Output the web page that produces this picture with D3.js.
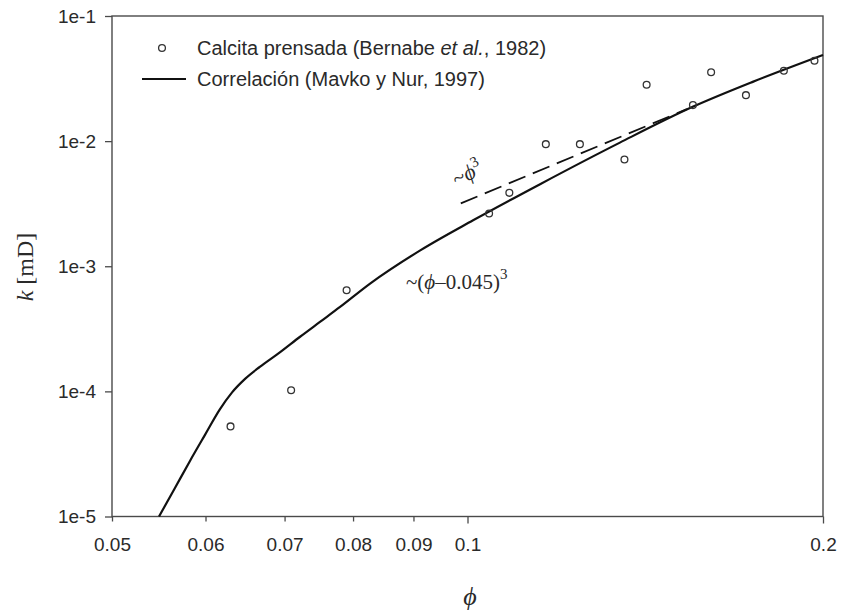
<!DOCTYPE html>
<html>
<head>
<meta charset="utf-8">
<script src="https://cdn.jsdelivr.net/npm/d3@7"></script>
<style>
  html, body { margin: 0; padding: 0; background: #fff; }
  svg { display: block; }
  .sans { font-family: "Liberation Sans", Arial, sans-serif; }
  .serif { font-family: "Liberation Serif", "Times New Roman", "DejaVu Serif", serif; }
</style>
</head>
<body>
<div id="chart"></div>
<script>
// Axis ticks
const phiTicks = [0.05, 0.06, 0.07, 0.08, 0.09, 0.1, 0.2];
const phiTickLabels = ["0.05", "0.06", "0.07", "0.08", "0.09", "0.1", "0.2"];
const kTicks = [1e-5, 1e-4, 1e-3, 1e-2, 1e-1];
const kTickLabels = ["1e-5", "1e-4", "1e-3", "1e-2", "1e-1"];

// Pressed calcite measurements (Bernabe et al., 1982)
const calcitaPhi = [0.0630, 0.0709, 0.0790, 0.1043, 0.1085, 0.1165, 0.1245, 0.1358, 0.1418, 0.1552, 0.1608, 0.1721, 0.1853, 0.1967];
const calcitaK   = [5.25e-5, 1.02e-4, 6.43e-4, 2.64e-3, 3.86e-3, 9.46e-3, 9.46e-3, 7.14e-3, 2.82e-2, 1.94e-2, 3.55e-2, 2.33e-2, 3.65e-2, 4.39e-2];

// Mavko & Nur (1997) correlation curve
const mavkoPhi = [0.0548, 0.05653, 0.05821, 0.05994, 0.0617, 0.06319, 0.06481, 0.0667, 0.0694, 0.0721, 0.0750, 0.0780, 0.0827, 0.0912, 0.1011, 0.1152, 0.1346, 0.1553, 0.1746, 0.2000];
const mavkoK   = [1.0e-5, 1.69e-5, 2.78e-5, 4.49e-5, 7.18e-5, 9.82e-5, 1.259e-4, 1.57e-4, 2.06e-4, 2.72e-4, 3.59e-4, 4.73e-4, 7.27e-4, 1.34e-3, 2.33e-3, 4.53e-3, 9.73e-3, 1.888e-2, 2.99e-2, 4.88e-2];

// ~phi^3 reference segment
const cubicPhi = [0.0987, 0.1534];
const cubicK   = [3.18e-3, 1.80e-2];

const W = 843, H = 612;
const plot = { left: 112, right: 823, top: 16, bottom: 516.5 };

const svg = d3.select("#chart").append("svg")
  .attr("width", W).attr("height", H)
  .attr("viewBox", `0 0 ${W} ${H}`);

const x = d3.scaleLog().domain([0.05, 0.2]).range([plot.left, plot.right]);
const y = d3.scaleLog().domain([1e-5, 1e-1]).range([plot.bottom, plot.top]);

const axisColor = "#4a4a4a";
const textColor = "#2a2a2a";

// Frame
svg.append("rect")
  .attr("x", plot.left).attr("y", plot.top)
  .attr("width", plot.right - plot.left).attr("height", plot.bottom - plot.top)
  .attr("fill", "none").attr("stroke", axisColor).attr("stroke-width", 1.4);

// Y axis
const yAxis = svg.append("g")
  .attr("transform", `translate(${plot.left},0)`)
  .call(d3.axisLeft(y).tickValues(kTicks)
    .tickFormat((d, i) => kTickLabels[i]).tickSize(7).tickPadding(9));
yAxis.select(".domain").remove();
yAxis.selectAll(".tick line").attr("stroke", axisColor).attr("stroke-width", 1.3);
yAxis.selectAll(".tick text")
  .attr("class", "sans").attr("font-size", 19).attr("fill", textColor);

// X axis
const xAxis = svg.append("g")
  .attr("transform", `translate(0,${plot.bottom})`)
  .call(d3.axisBottom(x).tickValues(phiTicks)
    .tickFormat((d, i) => phiTickLabels[i]).tickSize(5).tickPadding(16));
xAxis.select(".domain").remove();
xAxis.selectAll(".tick line")
  .attr("stroke", axisColor).attr("stroke-width", 1.3)
  .attr("y2", d => (d === 0.1 || d === 0.2) ? 7 : 5);
xAxis.selectAll(".tick text")
  .attr("class", "sans").attr("font-size", 19).attr("fill", textColor);

// Correlation curve
const curvePts = mavkoPhi.map((p, i) => [x(p), y(mavkoK[i])]);
svg.append("path")
  .attr("d", d3.line().curve(d3.curveMonotoneX)(curvePts))
  .attr("fill", "none").attr("stroke", "#111").attr("stroke-width", 2.2);

// ~phi^3 dashed segment
const cubicPts = cubicPhi.map((p, i) => [x(p), y(cubicK[i])]);
svg.append("path")
  .attr("d", d3.line()(cubicPts))
  .attr("fill", "none").attr("stroke", "#111").attr("stroke-width", 1.8)
  .attr("stroke-dasharray", "18,8");

// Measurements
svg.append("g").selectAll("circle")
  .data(calcitaPhi.map((p, i) => ({ phi: p, k: calcitaK[i] })))
  .join("circle")
  .attr("cx", d => x(d.phi)).attr("cy", d => y(d.k))
  .attr("r", 3.4)
  .attr("fill", "none").attr("stroke", "#333").attr("stroke-width", 1.3);

// Legend
const legend = svg.append("g").attr("class", "sans").attr("font-size", 20).attr("fill", textColor);
legend.append("circle")
  .attr("cx", 162).attr("cy", 48).attr("r", 3.4)
  .attr("fill", "none").attr("stroke", "#333").attr("stroke-width", 1.3);
const t1 = legend.append("text").attr("x", 197).attr("y", 48).attr("dy", "0.35em");
t1.append("tspan").text("Calcita prensada (Bernabe ");
t1.append("tspan").attr("font-style", "italic").text("et al.");
t1.append("tspan").text(", 1982)");
legend.append("line")
  .attr("x1", 142).attr("x2", 186).attr("y1", 79).attr("y2", 79)
  .attr("stroke", "#111").attr("stroke-width", 2);
legend.append("text").attr("x", 197).attr("y", 79).attr("dy", "0.35em")
  .text("Correlación (Mavko y Nur, 1997)");

// Curve annotations
const a1 = svg.append("text").attr("class", "serif")
  .attr("x", 406).attr("y", 289).attr("font-size", 21).attr("fill", textColor);
a1.append("tspan").text("~(");
a1.append("tspan").attr("font-style", "italic").text("ϕ");
a1.append("tspan").text("–0.045)");
a1.append("tspan").attr("font-size", 15).attr("dy", -10).text("3");

const a2 = svg.append("text").attr("class", "serif")
  .attr("transform", "translate(457,187) rotate(-28)")
  .attr("font-size", 22).attr("fill", textColor);
a2.append("tspan").text("~");
a2.append("tspan").attr("font-style", "italic").text("ϕ");
a2.append("tspan").attr("font-size", 15).attr("dy", -9).text("3");

// Axis titles
const yt = svg.append("text").attr("class", "serif")
  .attr("transform", "translate(33,267) rotate(-90)")
  .attr("text-anchor", "middle").attr("font-size", 24).attr("fill", textColor);
yt.append("tspan").attr("font-style", "italic").text("k");
yt.append("tspan").text(" [mD]");

svg.append("text").attr("class", "serif")
  .attr("x", 470).attr("y", 605).attr("text-anchor", "middle")
  .attr("font-size", 26).attr("font-style", "italic").attr("fill", textColor)
  .text("ϕ");
</script>
</body>
</html>
